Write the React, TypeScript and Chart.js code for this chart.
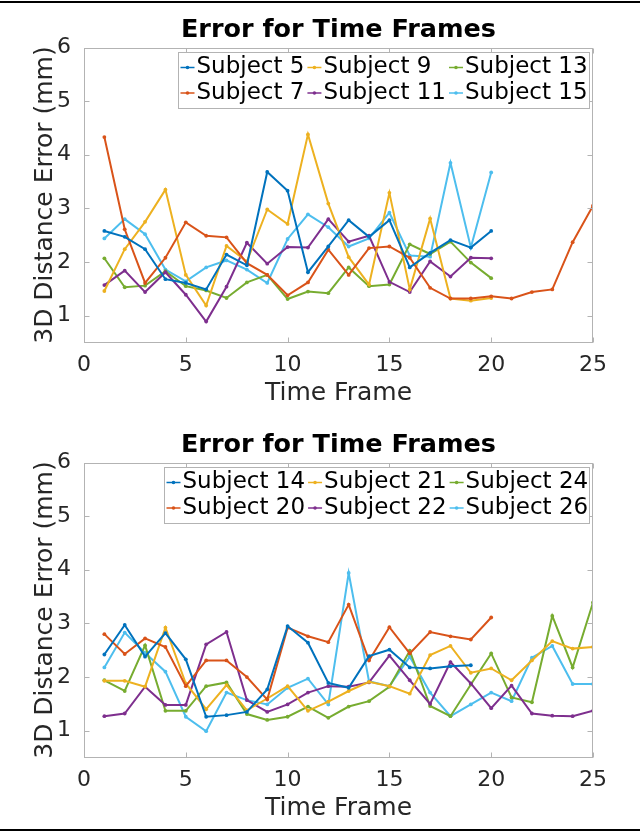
import { useEffect, useRef } from 'react';
import { Chart, registerables } from 'chart.js';

Chart.register(...registerables);

// ---------- data ----------
const timeFrames = [1, 2, 3, 4, 5, 6, 7, 8, 9, 10, 11, 12, 13, 14, 15, 16, 17, 18, 19, 20, 21, 22, 23, 24, 25];
const xTickValues = [0, 5, 10, 15, 20, 25];
const yTickValues = [1, 2, 3, 4, 5, 6];

// Top chart
const subject5 = [2.58, 2.47, 2.24, 1.68, 1.61, 1.49, 2.14, 1.94, 3.68, 3.33, 1.81, 2.29, 2.78, 2.47, 2.78, 1.90, 2.17, 2.41, 2.27, 2.58];
const subject7 = [4.33, 2.61, 1.61, 2.08, 2.74, 2.49, 2.46, 1.98, 1.76, 1.38, 1.62, 2.23, 1.76, 2.26, 2.29, 2.08, 1.52, 1.32, 1.32, 1.36, 1.32, 1.44, 1.49, 2.37, 3.05];
const subject9 = [1.46, 2.24, 2.75, 3.35, 1.76, 1.19, 2.30, 2.01, 2.98, 2.71, 4.38, 3.09, 2.09, 1.58, 3.29, 1.49, 2.81, 1.32, 1.28, 1.33];
const subject11 = [1.57, 1.84, 1.44, 1.81, 1.39, 0.89, 1.54, 2.36, 1.97, 2.28, 2.27, 2.80, 2.38, 2.49, 1.63, 1.44, 2.01, 1.73, 2.08, 2.07];
const subject13 = [2.07, 1.53, 1.56, 1.83, 1.55, 1.47, 1.33, 1.62, 1.76, 1.31, 1.45, 1.42, 1.90, 1.55, 1.58, 2.33, 2.15, 2.38, 1.99, 1.70];
const subject15 = [2.44, 2.80, 2.52, 1.86, 1.64, 1.90, 2.03, 1.86, 1.61, 2.43, 2.89, 2.65, 2.29, 2.44, 2.92, 2.12, 2.10, 3.85, 2.27, 3.67];

// Bottom chart
const subject14 = [2.42, 2.97, 2.38, 2.82, 2.33, 1.26, 1.29, 1.35, 1.77, 2.95, 2.64, 1.89, 1.80, 2.39, 2.51, 2.18, 2.16, 2.20, 2.22];
const subject20 = [2.80, 2.43, 2.72, 2.56, 1.83, 2.31, 2.31, 2.00, 1.58, 2.92, 2.76, 2.65, 3.35, 2.31, 2.93, 2.44, 2.84, 2.76, 2.70, 3.11];
const subject21 = [1.93, 1.93, 1.82, 2.92, 1.88, 1.40, 1.85, 1.38, 1.60, 1.83, 1.37, 1.54, 1.74, 1.91, 1.83, 1.69, 2.41, 2.58, 2.08, 2.16, 1.94, 2.31, 2.67, 2.53, 2.56];
const subject22 = [1.27, 1.32, 1.82, 1.48, 1.48, 2.61, 2.84, 1.57, 1.35, 1.49, 1.71, 1.83, 1.82, 1.90, 2.40, 1.94, 1.50, 2.28, 1.88, 1.42, 1.84, 1.32, 1.28, 1.27, 1.37];
const subject24 = [1.94, 1.74, 2.59, 1.37, 1.37, 1.83, 1.90, 1.31, 1.20, 1.26, 1.45, 1.24, 1.45, 1.55, 1.82, 2.49, 1.46, 1.27, 1.86, 2.44, 1.62, 1.53, 3.14, 2.18, 3.39];
const subject26 = [2.18, 2.83, 2.45, 2.10, 1.26, 0.99, 1.71, 1.57, 1.49, 1.80, 1.97, 1.49, 3.94, 1.92, 1.83, 2.38, 1.71, 1.27, 1.49, 1.71, 1.55, 2.36, 2.58, 1.87, 1.87];

const BLUE = '#0072BD';
const ORANGE = '#D95319';
const YELLOW = '#EDB120';
const PURPLE = '#7E2F8E';
const GREEN = '#77AC30';
const CYAN = '#4DBEEE';

const topSeries = [
  { label: 'Subject 5', values: subject5, color: BLUE },
  { label: 'Subject 7', values: subject7, color: ORANGE },
  { label: 'Subject 9', values: subject9, color: YELLOW },
  { label: 'Subject 11', values: subject11, color: PURPLE },
  { label: 'Subject 13', values: subject13, color: GREEN },
  { label: 'Subject 15', values: subject15, color: CYAN },
];
const bottomSeries = [
  { label: 'Subject 14', values: subject14, color: BLUE },
  { label: 'Subject 20', values: subject20, color: ORANGE },
  { label: 'Subject 21', values: subject21, color: YELLOW },
  { label: 'Subject 22', values: subject22, color: PURPLE },
  { label: 'Subject 24', values: subject24, color: GREEN },
  { label: 'Subject 26', values: subject26, color: CYAN },
];

const chartTitle = 'Error for Time Frames';
const xTitle = 'Time Frame';
const yTitle = '3D Distance Error (mm)';

// ---------- style ----------
const FONT = '"DejaVu Sans", "Liberation Sans", sans-serif';
const AXIS_COLOR = '#b3b3b3';
const TEXT_COLOR = '#262626';
const CANVAS_W = 640;
const AREA_LEFT = 84;
const AREA_RIGHT = 593;
const AREA_TOP = 47.5;
const AREA_BOTTOM = 342.5;

type Series = { label: string; values: number[]; color: string };

function makeFramePlugin() {
  return {
    id: 'matlabFrame',
    afterDatasetsDraw(chart: any) {
      const { ctx, chartArea: a, scales } = chart;
      const xs = scales.x;
      const ys = scales.y;
      ctx.save();
      const L = Math.round(a.left) + 0.5;
      const R = Math.round(a.right) - 0.5;
      const T = Math.round(a.top) + 0.5;
      const B = Math.round(a.bottom) - 0.5;
      ctx.strokeStyle = AXIS_COLOR;
      ctx.lineWidth = 1;
      ctx.strokeRect(L, T, R - L, B - T);
      const tl = 5;
      ctx.beginPath();
      xTickValues.forEach((v) => {
        const px = Math.round(xs.getPixelForValue(v)) + 0.5;
        ctx.moveTo(px, B);
        ctx.lineTo(px, B - tl);
        ctx.moveTo(px, T);
        ctx.lineTo(px, T + tl);
      });
      yTickValues.forEach((v) => {
        const py = Math.round(ys.getPixelForValue(v)) + 0.5;
        ctx.moveTo(L, py);
        ctx.lineTo(L + tl, py);
        ctx.moveTo(R, py);
        ctx.lineTo(R - tl, py);
      });
      ctx.stroke();
      ctx.restore();
    },
    afterDraw(chart: any) {
      const { ctx, chartArea: a } = chart;
      ctx.save();
      // title
      ctx.fillStyle = '#000';
      ctx.font = `bold 25.5px ${FONT}`;
      ctx.textAlign = 'center';
      ctx.textBaseline = 'alphabetic';
      ctx.fillText(chartTitle, (a.left + a.right) / 2, a.top - 11);
      // x title
      ctx.fillStyle = TEXT_COLOR;
      ctx.font = `25px ${FONT}`;
      ctx.fillText(xTitle, (a.left + a.right) / 2, a.bottom + 57);
      // y title
      ctx.save();
      ctx.translate(45, (a.top + a.bottom) / 2);
      ctx.rotate(-Math.PI / 2);
      ctx.textBaseline = 'middle';
      ctx.fillText(yTitle, 0, 0);
      ctx.restore();

      // legend (3 columns, 2 rows, column-major)
      const ds = chart.data.datasets;
      ctx.font = `23px ${FONT}`;
      const markerW = 14;
      const gap = 2;
      const after = 3;
      const padL = 2;
      const padR = 2;
      const cols = 3;
      const rows = 2;
      const colW: number[] = [];
      for (let c = 0; c < cols; c++) {
        let m = 0;
        for (let r = 0; r < rows; r++) {
          const d = ds[c * rows + r];
          if (d) m = Math.max(m, ctx.measureText(d.label).width);
        }
        colW.push(markerW + gap + m + after);
      }
      const total = padL + colW.reduce((s, w) => s + w, 0) - after + padR;
      const boxRight = Math.round(a.right) - 3.5;
      const boxLeft = Math.round(boxRight - total) + 0.5;
      const boxTop = Math.round(a.top + 4) + 0.5;
      const boxH = 56;
      ctx.fillStyle = '#ffffff';
      ctx.fillRect(boxLeft, boxTop, boxRight - boxLeft, boxH);
      ctx.strokeStyle = AXIS_COLOR;
      ctx.lineWidth = 1;
      ctx.strokeRect(boxLeft, boxTop, boxRight - boxLeft, boxH);
      const rowY = [boxTop + 15, boxTop + 40.5];
      let x = boxLeft + padL;
      for (let c = 0; c < cols; c++) {
        for (let r = 0; r < rows; r++) {
          const d = ds[c * rows + r];
          if (!d) continue;
          const y = rowY[r];
          ctx.strokeStyle = d.borderColor;
          ctx.lineWidth = 1.5;
          ctx.beginPath();
          ctx.moveTo(x, y);
          ctx.lineTo(x + markerW, y);
          ctx.stroke();
          ctx.fillStyle = d.borderColor;
          ctx.beginPath();
          ctx.arc(x + markerW / 2, y, 1.8, 0, Math.PI * 2);
          ctx.fill();
          ctx.fillStyle = '#000';
          ctx.textAlign = 'left';
          ctx.textBaseline = 'middle';
          ctx.fillText(d.label, x + markerW + gap, y);
        }
        x += colW[c];
      }
      ctx.restore();
    },
  };
}

function ErrorChart({ series, height }: { series: Series[]; height: number }) {
  const ref = useRef<HTMLCanvasElement | null>(null);
  useEffect(() => {
    if (!ref.current) return;
    const chart = new Chart(ref.current, {
      type: 'line',
      data: {
        datasets: series.map((s) => ({
          label: s.label,
          data: s.values.map((v, i) => ({ x: timeFrames[i], y: v })),
          borderColor: s.color,
          backgroundColor: s.color,
          pointBackgroundColor: s.color,
          pointBorderWidth: 0,
          pointRadius: 1.9,
          borderWidth: 2,
          tension: 0,
          fill: false,
        })),
      },
      options: {
        animation: false,
        responsive: false,
        devicePixelRatio: 1,
        layout: {
          padding: { left: 0, right: CANVAS_W - AREA_RIGHT, top: AREA_TOP, bottom: 0 },
        },
        plugins: {
          legend: { display: false },
          title: { display: false },
          tooltip: { enabled: false },
        },
        scales: {
          x: {
            type: 'linear',
            min: 0,
            max: 25,
            afterBuildTicks: (s: any) => {
              s.ticks = xTickValues.map((v) => ({ value: v }));
            },
            afterFit: (s: any) => {
              s.height = height - AREA_BOTTOM;
            },
            ticks: {
              font: { family: FONT, size: 22 },
              color: TEXT_COLOR,
              padding: 2,
              maxRotation: 0,
            },
            grid: { display: false },
            border: { display: false },
          },
          y: {
            type: 'linear',
            min: 0.5,
            max: 6,
            afterBuildTicks: (s: any) => {
              s.ticks = yTickValues.map((v) => ({ value: v }));
            },
            afterFit: (s: any) => {
              s.width = AREA_LEFT;
            },
            ticks: {
              font: { family: FONT, size: 22 },
              color: TEXT_COLOR,
              padding: 5,
            },
            grid: { display: false },
            border: { display: false },
          },
        },
      } as any,
      plugins: [makeFramePlugin()],
    });
    return () => chart.destroy();
  }, [series, height]);
  return <canvas ref={ref} width={CANVAS_W} height={height} style={{ display: 'block' }} />;
}

export default function App() {
  return (
    <div style={{ position: 'absolute', left: 0, top: 0, width: 640, height: 833, background: '#fff' }}>
      <div style={{ position: 'absolute', left: 0, top: 0, width: 640, height: 415 }}>
        <ErrorChart series={topSeries} height={415} />
      </div>
      <div style={{ position: 'absolute', left: 0, top: 415, width: 640, height: 418 }}>
        <ErrorChart series={bottomSeries} height={418} />
      </div>
      <div style={{ position: 'absolute', left: 0, top: 1, width: 640, height: 2, background: '#000' }} />
      <div style={{ position: 'absolute', left: 0, top: 829, width: 640, height: 2, background: '#000' }} />
    </div>
  );
}
